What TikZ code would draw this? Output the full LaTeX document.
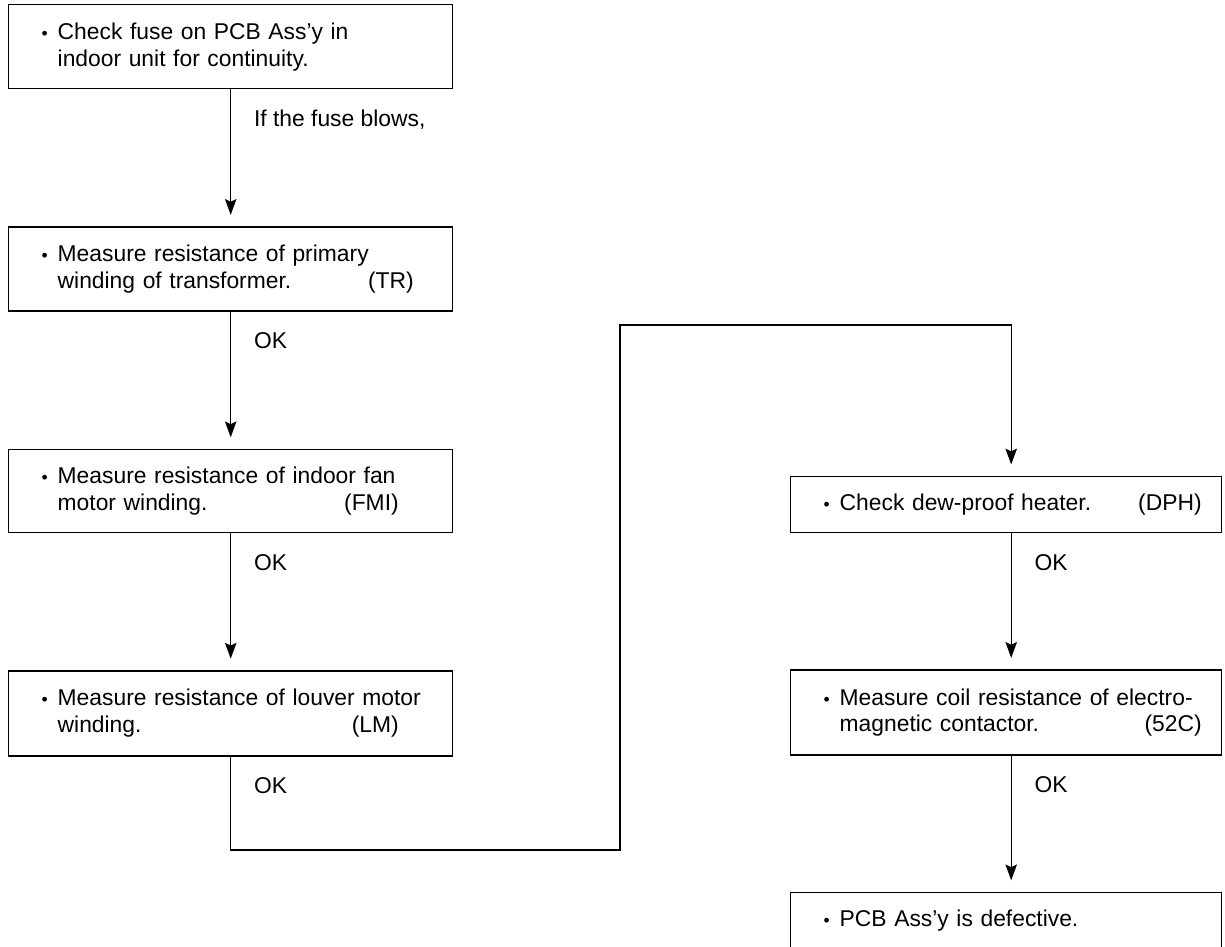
\documentclass[tikz,border=0pt]{standalone}
\usepackage{fontspec}
\setmainfont{Liberation Sans}
\usetikzlibrary{positioning, calc, arrows.meta}

\begin{document}
\begin{tikzpicture}
  \newcommand\stepgap{2.74cm}
  \newcommand\lblright{0.46cm}
  \newcommand\lbldown{-0.74cm}
  \newcommand\tipgap{0.23cm}
  \newcommand\colshift{0.1cm} % right column arrows sit a bit right of centre
  \newcommand\bul{\llap{{\fontsize{10pt}{10pt}\selectfont\textbullet}\hspace{0.2cm}}}
  \newcommand\steptag[2]{\hfill(#1)\hspace{#2}\null}

  \tikzset{stepbox/.style={draw, line width=0.8pt, inner sep=0pt, text width=#1,
      font=\fontsize{13pt}{15.3pt}\selectfont,
      execute at begin node={\leftskip=0.98cm\parindent=0pt\noindent}}}
  \tikzset{steplbl/.style={inner sep=0pt, anchor=base west, font=\fontsize{13pt}{15.3pt}\selectfont}}
  \tikzset{flow/.style={line width=0.8pt, -{Stealth[length=9pt, width=6.5pt, inset=1.5pt]}, shorten >=\tipgap}}

  \useasboundingbox (0,0) rectangle (24.5,-18.94);

  % left column
  \node[stepbox=8.88cm, minimum height=1.68cm, anchor=north west] at (0.16,-0.08) (fuse)
    {\bul Check fuse on PCB Ass'y in\\indoor unit for continuity.};
  \node[stepbox=8.88cm, minimum height=1.68cm, below=\stepgap of fuse] (tr)
    {\bul Measure resistance of primary\\winding of transformer.\steptag{TR}{0.78cm}};
  \node[stepbox=8.88cm, minimum height=1.66cm, below=\stepgap of tr] (fmi)
    {\bul Measure resistance of indoor fan\\motor winding.\steptag{FMI}{1.08cm}};
  \node[stepbox=8.88cm, minimum height=1.70cm, below=\stepgap of fmi] (lm)
    {\bul Measure resistance of louver motor\\winding.\steptag{LM}{1.08cm}};

  % right column
  \node[stepbox=8.62cm, minimum height=1.12cm, anchor=north west] at (15.8,-9.52) (dph)
    {\bul Check dew-proof heater.\steptag{DPH}{0.4cm}};
  \node[stepbox=8.62cm, minimum height=1.70cm, below=2.72cm of dph] (coil)
    {\bul Measure coil resistance of electro-\\magnetic contactor.\steptag{52C}{0.4cm}};
  \node[stepbox=8.62cm, minimum height=1.14cm, below=2.72cm of coil] (pcb)
    {\bul PCB Ass'y is defective.};

  % connectors
  \foreach \from/\to in {fuse/tr, tr/fmi, fmi/lm}{
    \draw[flow] (\from.south) -- (\to.north);
  }
  \foreach \from/\to in {dph/coil, coil/pcb}{
    \draw[flow] ([xshift=\colshift]\from.south) -- ([xshift=\colshift]\to.north);
  }
  \coordinate (loopdown) at (12.4,-17.0);
  \coordinate (loopup) at (12.4,-6.5);
  \draw[flow] (lm.south) |- (loopdown) -- (loopup) -| ([xshift=\colshift]dph.north);

  % labels
  \node[steplbl] at ([xshift=\lblright, yshift=\lbldown]fuse.south) (blows) {If the fuse blows,};
  \foreach \stepname in {tr, fmi, lm}{
    \node[steplbl] at ([xshift=\lblright, yshift=\lbldown]\stepname.south) (ok-\stepname) {OK};
  }
  \foreach \stepname in {dph, coil}{
    \node[steplbl] at ([xshift=\lblright+\colshift, yshift=\lbldown]\stepname.south) (ok-\stepname) {OK};
  }
\end{tikzpicture}
\end{document}
